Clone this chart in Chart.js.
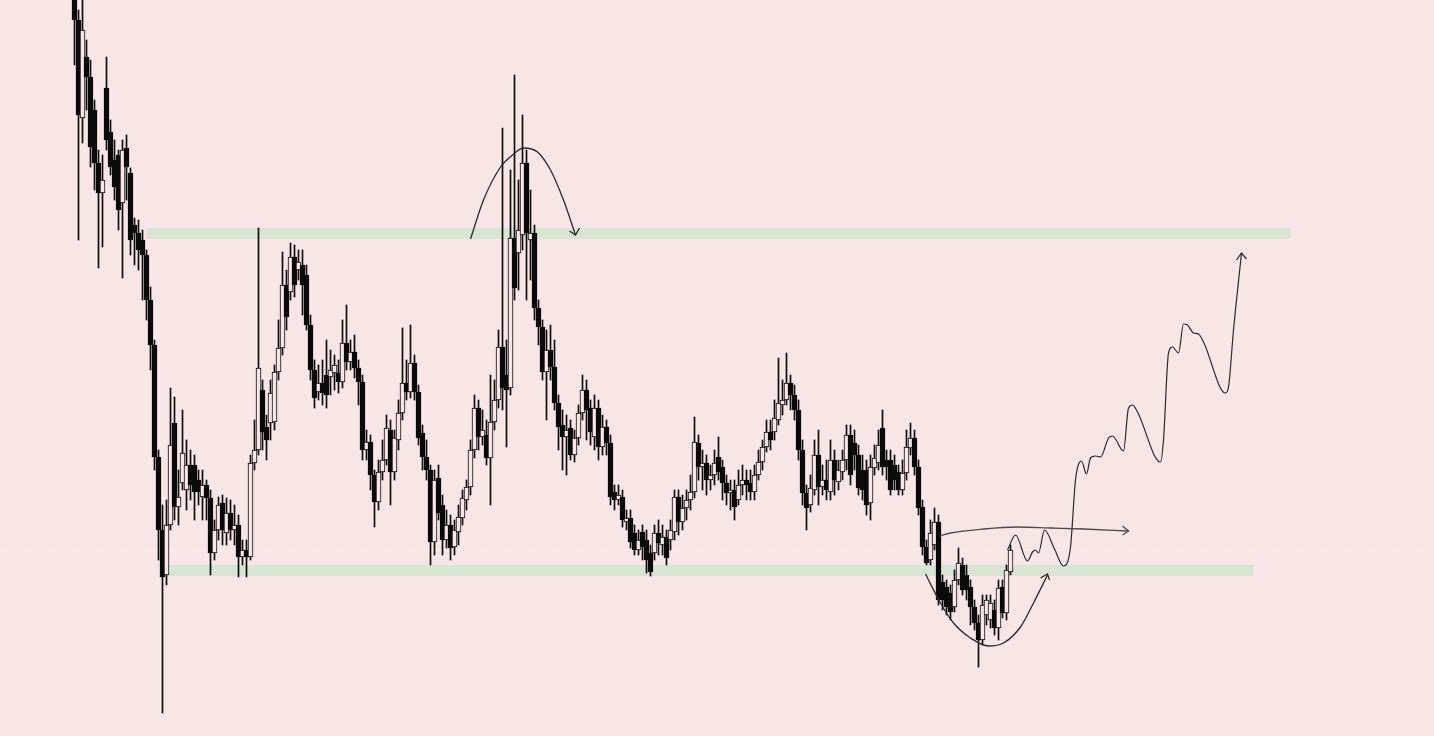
<!DOCTYPE html>
<html>
<head>
<meta charset="utf-8">
<script src="https://cdn.jsdelivr.net/npm/chart.js@4.4.1/dist/chart.umd.min.js"></script>
<style>
  html, body { margin: 0; padding: 0; background: #f8e5e6; }
  #wrap { width: 1434px; height: 736px; position: relative; }
</style>
</head>
<body>
<div id="wrap"><canvas id="CandleChart"></canvas></div>
<script>
// candle values (price units), one entry per bar
const open = [741,716,618,679,659,626,573,543,648,604,576,581,533,588,563,511,503,496,481,436,
  391,279,206,161,211,313,229,253,246,271,271,256,239,251,238,183,206,233,203,223,
  206,211,179,186,179,273,286,346,309,313,314,364,388,451,444,479,466,471,461,411,
  366,344,353,361,359,363,363,354,393,374,384,368,354,286,294,261,234,264,276,306,
  264,296,323,353,344,373,344,303,279,266,194,258,231,196,211,189,204,218,236,249,
  286,328,299,301,278,314,336,389,361,348,498,483,501,573,496,503,428,409,364,386,
  369,333,311,299,308,281,298,323,346,328,299,328,289,309,293,244,236,239,214,218,
  203,186,204,196,183,183,203,191,199,196,204,239,214,228,236,244,293,269,273,256,
  261,279,269,253,243,246,236,251,256,253,244,261,274,289,304,304,316,331,336,353,
  341,326,286,243,231,246,281,249,256,244,276,254,264,276,301,293,281,266,266,233,
  268,273,308,276,276,271,264,246,263,288,298,269,229,189,176,191,214,154,149,143,
  129,156,171,161,149,129,113,96,121,116,126,108,149,123,164];
const close = [716,621,706,659,589,573,543,556,596,569,549,526,586,569,496,503,486,481,436,391,
  279,206,159,211,291,229,239,283,271,251,244,244,251,238,183,206,231,206,223,206,
  211,179,186,179,273,286,368,304,296,343,364,388,451,419,479,451,474,451,411,366,
  338,353,343,341,366,371,354,393,374,384,368,354,286,294,261,234,264,276,308,264,
  298,323,353,344,373,344,298,279,266,194,256,223,196,211,188,206,219,238,249,286,
  328,299,306,278,314,336,389,348,346,498,448,506,573,503,503,428,409,364,386,369,
  333,309,299,306,281,298,323,346,326,304,328,289,309,293,239,236,241,216,218,194,
  186,196,189,176,164,203,193,199,178,206,239,214,228,236,244,294,269,273,256,261,
  273,264,253,243,246,229,251,256,251,244,261,274,289,304,296,318,333,336,353,341,
  326,286,243,228,248,281,249,256,246,276,256,266,276,301,261,281,248,246,231,269,
  278,291,269,269,246,256,246,263,289,298,269,228,189,173,203,214,136,136,129,124,
  156,173,146,146,129,113,96,131,136,133,108,148,123,166,186];
const high = [766,726,736,696,676,636,586,581,679,616,596,586,596,601,568,518,516,506,486,449,
  396,286,231,236,348,339,266,326,296,286,281,266,266,256,246,216,239,241,238,236,
  231,221,196,196,281,316,508,356,321,356,371,416,484,466,493,491,486,486,471,421,
  376,371,376,396,386,381,376,416,431,396,401,376,361,306,301,266,276,296,321,316,
  306,336,408,376,411,381,351,311,296,271,266,271,241,226,221,216,231,246,256,296,
  341,336,326,316,361,356,406,608,396,566,661,556,621,586,546,511,436,416,406,411,
  396,341,326,321,316,306,331,361,356,336,341,336,321,316,301,251,251,246,226,226,
  211,206,211,206,191,211,216,211,206,216,246,246,241,246,261,319,301,286,281,271,
  286,299,276,261,256,256,266,271,266,266,271,286,296,316,316,336,378,356,383,361,
  351,336,296,251,261,296,306,271,276,296,286,276,286,311,311,306,291,281,276,281,
  291,306,326,286,286,281,271,276,306,313,306,276,236,196,216,228,221,161,156,151,
  166,188,178,171,156,136,121,141,141,141,136,156,156,171,191];
const low = [671,496,593,626,569,546,468,489,586,561,536,506,458,536,481,471,466,436,416,366,
  266,176,23,151,206,216,211,246,226,236,216,231,216,216,161,176,196,191,191,196,
  191,159,171,159,176,266,281,286,276,296,306,356,381,406,436,439,456,421,406,356,
  328,336,331,328,341,346,343,348,366,366,358,331,276,276,246,209,226,256,271,231,
  256,286,316,336,338,336,291,266,256,171,181,216,181,188,176,181,191,211,226,241,
  278,286,291,271,231,306,328,326,289,341,436,446,486,436,456,416,391,356,316,356,
  326,286,266,261,276,274,291,316,296,291,286,276,281,281,231,226,231,209,206,188,
  181,181,176,163,160,176,181,181,171,186,196,201,206,216,226,238,256,246,241,246,
  251,256,236,231,226,216,231,241,236,236,236,256,266,284,286,296,311,321,331,326,
  316,276,231,206,224,241,231,241,236,236,241,246,256,266,251,266,241,236,221,216,
  261,266,261,256,241,246,241,241,256,281,261,221,181,171,171,186,131,126,121,116,
  124,151,141,136,111,106,69,91,111,108,101,96,118,116,161];

// support / resistance bands
const bandLevel = [502.5, 165.5];
const bandStart = [18, 21.5];
const bandEnd = [304, 294.75];
const guideLevel = 186;

// hand drawn annotations: [bar index, price]
const topArc = [[99,497],[102.25,536],[106.5,569],[109.5,581],[112.25,588],[115.75,584],[119,566],[122.25,536],[125.25,501]];
const topHead = [[123.75,505],[125.25,501],[126.25,508]];
const cupCurve = [[212.75,162],[216.5,133],[219.75,113],[224,98],[228.5,90],[232.25,93],[236.5,109],[239.75,133],[243.25,161]];
const cupHead = [[241.5,158],[243.25,162],[243.75,156]];
const breakoutArrow = [[216.25,200],[219,203],[227.25,207],[235.75,209],[244,208],[252.25,207],[263.5,205]];
const breakoutHead = [[262,210],[263.5,205],[262,201]];
const projection = [[233.25,186],[235.25,201],[238.25,175],[239.5,184],[240.25,186],[241,183],[242.5,206],[245,187],
  [247.25,170],[249,189],[250.25,256],[251.75,275],[253,262],[254,278],[255.25,280],[256.5,279],[258.5,298],
  [259.5,300],[262.25,285],[263.5,328],[264.5,331],[265.75,324],[271.5,274],[272.25,296],[273.5,383],[274.5,389],
  [276,383],[277.25,412],[278.25,411],[279.75,403],[281,402],[282.25,394],[287.75,343],[288.5,349],[289.75,406],[291.75,483]];
const projHead = [[290.5,476],[291.75,483],[293,477]];

const bg = '#f8e5e6';
const ink = '#0a0a0a';

const bodies = close.map((c, i) => ({ x: i, y: [open[i], c] }));
const wicks = close.map((c, i) => ({ x: i, y: [low[i], high[i]] }));
const toXY = pts => pts.map(p => ({ x: p[0], y: p[1] }));

function sketch(pts, color, width, smooth) {
    return {
        type: 'line',
        data: toXY(pts),
        borderColor: color,
        borderWidth: width,
        pointRadius: 0,
        fill: false,
        cubicInterpolationMode: smooth ? 'monotone' : 'default',
        tension: 0,
        order: 0
    };
}

const datasets = [
    {
        label: 'bodies',
        data: bodies,
        backgroundColor: close.map((c, i) => c >= open[i] ? bg : ink),
        borderColor: ink,
        borderWidth: 1,
        borderSkipped: false,
        barThickness: 5,
        grouped: false,
        order: 1
    },
    {
        label: 'wicks',
        data: wicks,
        backgroundColor: ink,
        barThickness: 1,
        grouped: false,
        order: 2
    },
    {
        type: 'line',
        label: 'guide',
        data: [{ x: -20, y: guideLevel }, { x: 342, y: guideLevel }],
        borderColor: 'rgba(255,255,255,0.75)',
        borderWidth: 1,
        borderDash: [1, 2],
        pointRadius: 0,
        order: 3
    }
];

bandLevel.forEach((lvl, k) => {
    datasets.push({
        type: 'line',
        label: 'band' + k,
        data: [{ x: bandStart[k], y: lvl }, { x: bandEnd[k], y: lvl }],
        borderColor: '#d9e5d3',
        borderWidth: 11,
        pointRadius: 0,
        order: 4
    });
});

datasets.push(sketch(topArc, '#2a2a2a', 1.3, true));
datasets.push(sketch(topHead, '#2a2a2a', 1.3, false));
datasets.push(sketch(cupCurve, '#2a2a2a', 1.3, true));
datasets.push(sketch(cupHead, '#2a2a2a', 1.3, false));
datasets.push(sketch(breakoutArrow, '#4a4a4a', 1.3, true));
datasets.push(sketch(breakoutHead, '#4a4a4a', 1.3, false));
datasets.push(sketch(projection, '#2a2a2a', 1.2, true));
datasets.push(sketch(projHead, '#2a2a2a', 1.2, false));

const config = {
    type: 'bar',
    data: { datasets: datasets },
    options: {
        responsive: true,
        maintainAspectRatio: false,
        animation: false,
        layout: { padding: 0 },
        plugins: {
            legend: { display: false },
            title: { display: false },
            tooltip: { enabled: false }
        },
        scales: {
            x: { type: 'linear', min: -18.625, max: 339.875, offset: false, display: false },
            y: { type: 'linear', min: 0, max: 736, display: false }
        }
    }
};
const ctx = document.getElementById('CandleChart');
new Chart(ctx, config);
</script>
</body>
</html>
